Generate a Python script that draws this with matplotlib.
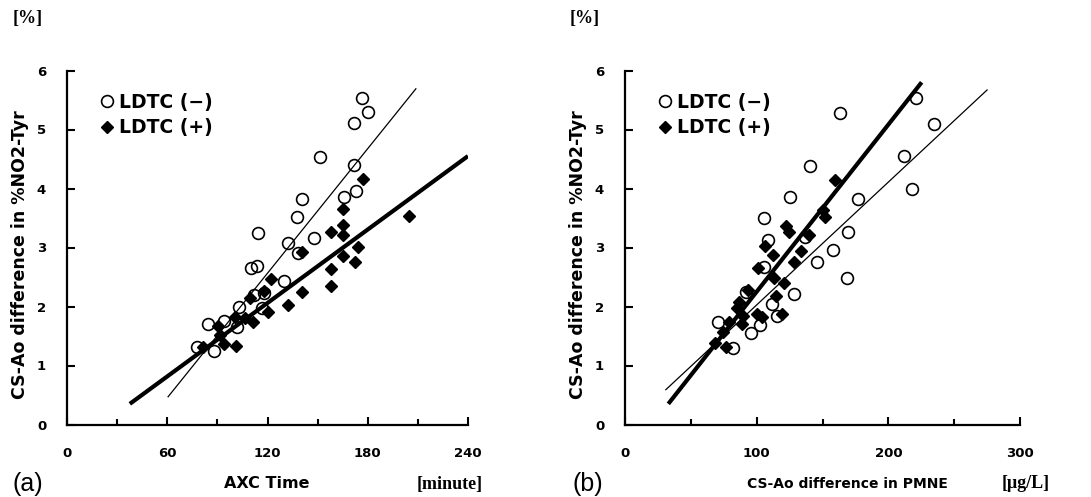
import matplotlib
matplotlib.use("Agg")
import matplotlib.pyplot as plt

plt.rcParams["font.family"] = "DejaVu Sans"

# ---- panel (a): AXC time vs CS-Ao difference in %NO2-Tyr ----
a_neg_x = [77.6, 87.8, 84.4, 93.7, 102.9, 101.7, 109.9, 113.6, 112.2, 116.6, 118.2,
           130.1, 138.1, 114.2, 132.1, 147.6, 137.5, 140.5, 151.6, 166.0, 172.9,
           171.5, 171.5, 180.3, 176.3]
a_neg_y = [1.32, 1.24, 1.70, 1.76, 2.00, 1.65, 2.65, 2.69, 2.19, 1.97, 2.23,
           2.44, 2.91, 3.25, 3.08, 3.16, 3.51, 3.83, 4.53, 3.85, 3.96,
           4.40, 5.11, 5.29, 5.54]
a_pos_x = [81.4, 90.3, 91.3, 94.0, 100.9, 100.3, 106.3, 111.6, 109.3, 118.2, 122.2,
           120.2, 132.1, 140.5, 140.7, 158.0, 158.0, 165.0, 172.5, 174.0, 158.0,
           165.4, 165.0, 165.0, 177.3, 204.8]
a_pos_y = [1.32, 1.67, 1.52, 1.36, 1.33, 1.83, 1.80, 1.74, 2.14, 2.26, 2.47,
           1.91, 2.03, 2.24, 2.92, 2.34, 2.64, 2.86, 2.75, 3.01, 3.26,
           3.21, 3.38, 3.65, 4.16, 3.53]
a_fit_neg_x = [60.5, 208.8]
a_fit_neg_y = [0.47, 5.69]
a_fit_pos_x = [37.6, 240.0]
a_fit_pos_y = [0.35, 4.55]

# ---- panel (b): CS-Ao difference in PMNE vs CS-Ao difference in %NO2-Tyr ----
b_neg_x = [221.0, 234.9, 163.5, 211.8, 217.9, 140.5, 125.5, 176.7, 169.6, 157.7,
           145.6, 168.8, 128.6, 136.7, 105.5, 108.3, 105.5, 111.4, 115.2, 102.5,
           95.4, 70.8, 81.8, 92.2]
b_neg_y = [5.53, 5.09, 5.28, 4.55, 3.99, 4.38, 3.85, 3.83, 3.26, 2.95,
           2.75, 2.48, 2.21, 3.18, 3.50, 3.12, 2.67, 2.05, 1.84, 1.68,
           1.55, 1.74, 1.29, 2.24]
b_pos_x = [159.5, 150.6, 152.0, 122.2, 124.8, 140.0, 133.4, 128.3, 120.7, 119.0,
           112.1, 106.3, 101.2, 113.1, 114.7, 93.6, 86.8, 84.8, 89.8, 100.0,
           103.8, 79.2, 74.2, 68.3, 76.7, 88.6]
b_pos_y = [4.14, 3.64, 3.52, 3.37, 3.26, 3.21, 2.94, 2.76, 2.39, 1.88,
           2.88, 3.03, 2.65, 2.49, 2.17, 2.28, 2.07, 1.98, 1.84, 1.87,
           1.83, 1.74, 1.57, 1.38, 1.32, 1.71]
b_fit_neg_x = [31.0, 275.0]
b_fit_neg_y = [0.59, 5.67]
b_fit_pos_x = [32.9, 225.3]
b_fit_pos_y = [0.35, 5.80]

LABELS = ["LDTC (\u2212)", "LDTC (+)"]
YLABEL = "CS-Ao difference in %NO2-Tyr"

W, H = 1091, 497
fig = plt.figure(figsize=(W / 100, H / 100), dpi=100)


def make_panel(rect, xmax, major, minor, nx, ny, px, py, fnx, fny, fpx, fpy):
    ax = fig.add_axes(rect)
    ax.plot(fnx, fny, color="black", lw=0.9, zorder=2)
    ax.plot(fpx, fpy, color="black", lw=3.0, solid_capstyle="butt", zorder=2)
    ax.plot(nx, ny, ls="none", marker="o", ms=8.5, mfc="none", mec="black",
            mew=1.2, label=LABELS[0], zorder=3)
    ax.plot(px, py, ls="none", marker="D", ms=5.8, mfc="black", mec="black",
            label=LABELS[1], zorder=3)
    ax.set_xlim(0, xmax)
    ax.set_ylim(0, 6)
    ax.set_xticks(major)
    ax.set_xticks(minor, minor=True)
    ax.set_yticks(range(7))
    for s in ["top", "right"]:
        ax.spines[s].set_visible(False)
    for s in ["left", "bottom"]:
        ax.spines[s].set_linewidth(1.6)
    ax.tick_params(axis="both", which="major", direction="in", length=6, width=1.5,
                   labelsize=9.5)
    ax.tick_params(axis="x", which="minor", direction="in", length=4, width=1.5)
    ax.tick_params(axis="x", which="major", pad=16.5)
    ax.tick_params(axis="y", which="major", pad=15)
    for lab in ax.get_xticklabels() + ax.get_yticklabels():
        lab.set_fontweight("bold")
    ax.set_ylabel(YLABEL, fontsize=12.5, fontweight="bold", va="center")
    ax.yaxis.set_label_coords(-0.117, 0.48)
    ax.legend(loc="upper left", bbox_to_anchor=(0.07, 0.958), frameon=False,
              handlelength=0.5, handletextpad=0.4, labelspacing=0.35,
              borderaxespad=0, prop=dict(weight="bold", size=13.5))
    return ax


ax_a = make_panel([67 / W, 72.5 / H, 401 / W, 354 / H], 240,
                  [0, 60, 120, 180, 240], [30, 90, 150, 210],
                  a_neg_x, a_neg_y, a_pos_x, a_pos_y,
                  a_fit_neg_x, a_fit_neg_y, a_fit_pos_x, a_fit_pos_y)
ax_b = make_panel([625 / W, 72.5 / H, 395 / W, 354 / H], 300,
                  [0, 100, 200, 300], [50, 150, 250],
                  b_neg_x, b_neg_y, b_pos_x, b_pos_y,
                  b_fit_neg_x, b_fit_neg_y, b_fit_pos_x, b_fit_pos_y)
ax_b.yaxis.set_label_coords(-0.119, 0.48)

# axis titles / units
fig.text(267 / W, 1 - 484 / H, "AXC Time", ha="center", va="center",
         fontsize=11.5, fontweight="bold")
fig.text(847 / W, 1 - 484 / H, "CS-Ao difference in PMNE", ha="center", va="center",
         fontsize=10, fontweight="bold")
fig.text(450 / W, 1 - 484 / H, "[minute]", ha="center", va="center",
         fontsize=13, fontweight="bold", family="Liberation Serif")
fig.text(1026 / W, 1 - 484 / H, "[\u03bcg/L]", ha="center", va="center",
         fontsize=13, fontweight="bold", family="Liberation Serif")
fig.text(28 / W, 1 - 18 / H, "[%]", ha="center", va="center",
         fontsize=13, fontweight="bold", family="Liberation Serif")
fig.text(585 / W, 1 - 18 / H, "[%]", ha="center", va="center",
         fontsize=13, fontweight="bold", family="Liberation Serif")
fig.text(28 / W, 1 - 484 / H, "(a)", ha="center", va="center", fontsize=18,
         family="Liberation Sans")
fig.text(588 / W, 1 - 484 / H, "(b)", ha="center", va="center", fontsize=18,
         family="Liberation Sans")

fig.savefig("out.png", dpi=100)
